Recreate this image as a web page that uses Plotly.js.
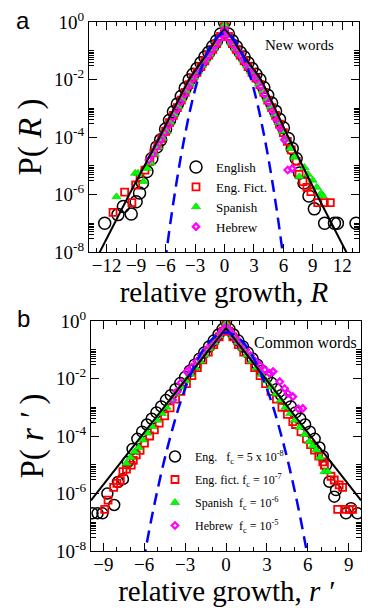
<!DOCTYPE html>
<html>
<head>
<meta charset="utf-8">
<script src="https://cdn.plot.ly/plotly-3.0.1.min.js"></script>
<style>html,body{margin:0;padding:0;background:#fff;}#chart{width:373px;height:611px;}</style>
</head>
<body>
<div id="chart"></div>
<script>
// ---------- Panel a: new words (x = R, values are log10 P) ----------
const engA_R = [-12.2,-10.85,-10.3,-9.5,-9.0,-8.65,-8.35,-7.9,-7.4,-6.9,-6.5,-6.0,-5.6,-5.2,-4.8,-4.4,-4.0,-3.6,-3.2,-2.8,-2.4,-2.0,-1.6,-1.2,-0.8,-0.4,0,0.4,0.8,1.2,1.6,2.0,2.4,2.8,3.2,3.6,4.0,4.4,4.8,5.2,5.6,6.0,6.5,6.9,7.3,7.65,8.1,8.6,9.15,10.2,11.2,11.5,13.4];
const engA_logP = [-7.0,-6.7,-6.42,-6.68,-6.25,-5.95,-5.6,-5.2,-4.75,-4.35,-4.1,-3.72,-3.42,-3.12,-2.85,-2.58,-2.3,-2.02,-1.82,-1.62,-1.42,-1.22,-1.05,-0.85,-0.65,-0.42,0,-0.42,-0.65,-0.85,-1.05,-1.22,-1.42,-1.62,-1.82,-2.0,-2.28,-2.55,-2.82,-3.1,-3.38,-3.68,-4.05,-4.4,-4.75,-5.25,-5.6,-6.05,-6.5,-7.0,-7.0,-7.0,-7.0];

const ficA_R = [-11.35,-10.17,-9.43,-9.05,-8.6,-8.1,-7.6,-7.2,-6.8,-6.4,-6.0,-5.6,-5.2,-4.8,-4.4,-4.0,-3.6,-3.2,-2.8,-2.4,-2.0,-1.6,-1.2,-0.8,-0.4,0,0.4,0.8,1.2,1.6,2.0,2.4,2.8,3.2,3.6,4.0,4.4,4.8,5.2,5.6,6.0,6.4,6.8,7.3,7.6,8.0,8.4,8.8,9.5,10.17,10.78];
const ficA_logP = [-6.62,-5.92,-6.28,-5.67,-5.4,-5.15,-4.85,-4.55,-4.3,-4.05,-3.8,-3.5,-3.25,-2.98,-2.72,-2.45,-2.18,-1.95,-1.75,-1.55,-1.35,-1.15,-0.95,-0.75,-0.5,-0.16,-0.5,-0.75,-0.95,-1.15,-1.35,-1.55,-1.75,-1.95,-2.18,-2.45,-2.72,-2.98,-3.25,-3.55,-3.85,-4.15,-4.45,-4.85,-5.3,-5.55,-5.75,-5.9,-6.28,-6.28,-6.28];

const spaA_R = [-11.0,-9.1,-8.8,-8.24,-7.9,-7.5,-7.1,-6.7,-6.3,-5.9,-5.5,-5.1,-4.7,-4.3,-3.9,-3.5,-3.1,-2.7,-2.3,-1.9,-1.5,-1.1,-0.7,-0.3,0,0.3,0.7,1.1,1.5,1.9,2.3,2.7,3.1,3.5,3.9,4.3,4.7,5.1,5.5,5.9,6.3,6.7,7.1,7.63,8.14,8.5,8.98,9.4,9.83,10.0];
const spaA_logP = [-6.08,-5.26,-5.26,-5.55,-5.1,-4.9,-4.6,-4.35,-4.05,-3.8,-3.5,-3.22,-2.95,-2.68,-2.4,-2.15,-1.92,-1.72,-1.52,-1.32,-1.12,-0.92,-0.72,-0.45,-0.1,-0.45,-0.72,-0.92,-1.12,-1.32,-1.52,-1.72,-1.92,-2.15,-2.4,-2.68,-2.95,-3.22,-3.5,-3.8,-4.1,-4.4,-4.7,-5.38,-5.06,-5.3,-5.5,-5.75,-5.96,-6.04];

const hebA_R = [-7.7,-7.3,-6.9,-6.5,-6.1,-5.7,-5.3,-4.9,-4.5,-4.1,-3.7,-3.3,-2.9,-2.5,-2.1,-1.7,-1.3,-0.9,-0.5,-0.2,0,0.2,0.5,0.9,1.3,1.7,2.1,2.5,2.9,3.3,3.7,4.1,4.5,4.9,5.3,5.7,6.1,6.44,6.9];
const hebA_logP = [-4.8,-4.6,-4.35,-4.1,-3.85,-3.6,-3.32,-3.05,-2.78,-2.52,-2.25,-2.0,-1.8,-1.6,-1.4,-1.2,-1.0,-0.8,-0.6,-0.4,-0.25,-0.4,-0.6,-0.8,-1.0,-1.2,-1.4,-1.6,-1.8,-2.0,-2.25,-2.52,-2.8,-3.1,-3.4,-3.7,-4.1,-5.15,-5.1];

// solid black fit curve, panel a
const fitA_R = [-13.8,-12.7,-9.7,-6.6,-3.6,-1.8,0,1.8,3.7,6.5,9.4,12.4,13.7];
const fitA_logP = [-8.7,-8.0,-6.0,-4.0,-2.0,-1.12,-0.27,-1.12,-2.0,-4.0,-6.0,-8.0,-8.85];

// blue dashed Gaussian curve (same in both panels)
const gauss_x = [-6.3,-6,-5.5,-5,-4.5,-4,-3.5,-3,-2.5,-2,-1.5,-1,-0.5,0,0.5,1,1.5,2,2.5,3,3.5,4,4.5,5,5.5,6,6.3];
const gauss_P = [1e-9,6e-9,1.1e-7,1.5e-6,1.6e-5,1.3e-4,8.7e-4,4.4e-3,1.75e-2,5.4e-2,0.13,0.24,0.35,0.4,0.35,0.24,0.13,5.4e-2,1.75e-2,4.4e-3,8.7e-4,1.3e-4,1.6e-5,1.5e-6,1.1e-7,6e-9,1e-9];

// ---------- Panel b: common words (x = r') ----------
const engB_r = [-9.79,-9.42,-9.06,-8.7,-8.2,-7.92,-7.56,-7.2,-6.85,-6.5,-6.15,-5.8,-5.45,-5.1,-4.75,-4.4,-4.05,-3.7,-3.35,-3.0,-2.65,-2.3,-1.95,-1.6,-1.25,-0.9,-0.55,-0.25,0,0.25,0.55,0.9,1.25,1.6,1.95,2.3,2.65,3.0,3.35,3.7,4.05,4.4,4.75,5.1,5.45,5.8,6.15,6.5,6.85,7.1,7.34,7.58,7.94,8.07,8.8,9.16,9.64];
const engB_logP = [-6.69,-6.69,-6.69,-6.0,-6.4,-5.6,-5.5,-4.9,-4.45,-4.1,-3.85,-3.6,-3.4,-3.18,-2.97,-2.75,-2.58,-2.37,-2.16,-1.95,-1.73,-1.52,-1.31,-1.1,-0.89,-0.68,-0.47,-0.28,-0.02,-0.28,-0.47,-0.68,-0.89,-1.1,-1.31,-1.52,-1.73,-1.95,-2.16,-2.37,-2.58,-2.75,-2.97,-3.18,-3.4,-3.6,-3.85,-4.1,-4.4,-4.7,-5.01,-5.59,-6.11,-5.88,-6.69,-6.51,-6.69];

const ficB_r = [-8.89,-8.65,-8.24,-8.0,-7.75,-7.56,-7.3,-6.95,-6.8,-6.58,-6.3,-5.98,-5.6,-5.25,-4.9,-4.5,-4.1,-3.7,-3.3,-2.9,-2.5,-2.1,-1.7,-1.3,-0.9,-0.5,-0.2,0,0.2,0.5,0.9,1.3,1.7,2.1,2.5,2.9,3.3,3.7,4.1,4.5,4.9,5.1,5.5,5.9,6.2,6.49,6.8,7.1,7.22,7.7,7.94,8.3,8.55,8.19,8.8,9.04,9.28];
const ficB_logP = [-6.55,-6.23,-5.79,-5.65,-5.55,-5.24,-5.15,-5.01,-4.85,-4.66,-4.5,-4.25,-4.0,-3.79,-3.55,-3.3,-3.02,-2.72,-2.45,-2.18,-1.9,-1.62,-1.35,-1.08,-0.82,-0.55,-0.35,-0.15,-0.35,-0.55,-0.82,-1.08,-1.35,-1.62,-1.9,-2.18,-2.45,-2.72,-3.0,-3.25,-3.5,-3.6,-3.85,-4.1,-4.3,-4.49,-4.7,-4.9,-5.01,-5.4,-5.53,-5.7,-5.79,-6.55,-6.55,-6.55,-6.55];

const spaB_r = [-7.31,-7.0,-6.7,-6.4,-6.1,-5.75,-5.4,-5.05,-4.7,-4.35,-4.0,-3.65,-3.3,-2.95,-2.6,-2.25,-1.9,-1.55,-1.2,-0.85,-0.5,-0.2,0,0.2,0.5,0.85,1.2,1.55,1.9,2.25,2.6,2.95,3.3,3.65,4.0,4.35,4.7,5.05,5.4,5.75,6.1,6.35,6.61,6.9,7.22,7.46];
const spaB_logP = [-4.95,-4.75,-4.55,-4.4,-4.14,-3.9,-3.68,-3.45,-3.22,-3.0,-2.76,-2.53,-2.3,-2.08,-1.85,-1.63,-1.4,-1.18,-0.96,-0.74,-0.52,-0.3,-0.08,-0.3,-0.52,-0.74,-0.96,-1.18,-1.4,-1.63,-1.85,-2.08,-2.3,-2.53,-2.76,-3.0,-3.22,-3.45,-3.7,-3.95,-4.2,-4.35,-4.49,-4.75,-5.24,-5.24];

const hebB_r = [-3.9,-3.6,-3.3,-2.87,-2.5,-2.15,-1.8,-1.45,-1.1,-0.75,-0.4,-0.15,0,0.15,0.4,0.75,1.1,1.45,1.8,2.15,2.5,2.85,3.2,3.45,3.94,4.3,4.54,4.9,5.3,5.63];
const hebB_logP = [-2.75,-2.45,-2.15,-1.76,-1.6,-1.4,-1.2,-1.0,-0.82,-0.62,-0.42,-0.28,-0.2,-0.28,-0.42,-0.62,-0.82,-1.0,-1.2,-1.4,-1.55,-1.7,-1.82,-1.76,-2.11,-2.35,-2.52,-2.63,-3.05,-3.04];

// solid black Laplace line, panel b
const fitB_r = [-9.9,0,9.9];
const fitB_logP = [-6.24,-0.25,-6.24];

// labels
const namesA = ['English','Eng. Fict.','Spanish','Hebrew'];
const namesB = ['Eng.\u00a0\u00a0\u00a0f<sub>c</sub> = 5 x 10<sup>-8</sup>','Eng. fict. f<sub>c</sub> = 10<sup>-7</sup>','Spanish\u00a0\u00a0f<sub>c</sub> = 10<sup>-6</sup>','Hebrew\u00a0\u00a0f<sub>c</sub> = 10<sup>-5</sup>'];
const xTicksA = [-12,-9,-6,-3,0,3,6,9,12];
const xTicksB = [-9,-6,-3,0,3,6,9];
const yTickVals = [1,1e-2,1e-4,1e-6,1e-8];
const yTickText = ['10<sup>0</sup>','10<sup>-2</sup>','10<sup>-4</sup>','10<sup>-6</sup>','10<sup>-8</sup>'];

// ---------- build ----------
const pw = v => v.map(e => Math.pow(10, e));
const W = 373, H = 611;
const SERIF = 'Liberation Serif, Times New Roman, serif';

const yMinor = [];
[-2,-4,-6,-8].forEach(e => { for (let k = 3; k <= 10; k++) yMinor.push(k * Math.pow(10, e)); });

function markerTraces(sets, xa, ya, leg, circSize) {
  const styles = [
    {symbol:'circle-open', size:circSize, color:'#000', line:{width:1.5,color:'#000'}},
    {symbol:'square-open', size:7, color:'#ff0000', line:{width:1.8,color:'#ff0000'}},
    {symbol:'triangle-up', size:8, color:'#00ff00', line:{width:0.6,color:'#00c000'}},
    {symbol:'diamond-open', size:5, color:'#ff00ff', line:{width:2.2,color:'#ff00ff'}}
  ];
  return sets.map((s, i) => ({
    type:'scatter', mode:'markers', x:s[0], y:pw(s[1]), name:s[2],
    xaxis:xa, yaxis:ya, legend:leg, legendgroup:leg + i,
    marker:styles[i], cliponaxis:true
  }));
}

const traces = [
  ...markerTraces([[engA_R,engA_logP,namesA[0]],[ficA_R,ficA_logP,namesA[1]],[spaA_R,spaA_logP,namesA[2]],[hebA_R,hebA_logP,namesA[3]]],'x','y','legend',12),
  {type:'scatter', mode:'lines', x:fitA_R, y:pw(fitA_logP), xaxis:'x', yaxis:'y', showlegend:false, line:{color:'#000', width:2, shape:'spline', smoothing:0.6}},
  {type:'scatter', mode:'lines', x:gauss_x, y:gauss_P, xaxis:'x', yaxis:'y', showlegend:false, line:{color:'#0000ff', width:2.5, dash:'12px,7px', shape:'spline'}},
  ...markerTraces([[engB_r,engB_logP,namesB[0]],[ficB_r,ficB_logP,namesB[1]],[spaB_r,spaB_logP,namesB[2]],[hebB_r,hebB_logP,namesB[3]]],'x2','y2','legend2',11),
  {type:'scatter', mode:'lines', x:fitB_r, y:pw(fitB_logP), xaxis:'x2', yaxis:'y2', showlegend:false, line:{color:'#000', width:2}},
  {type:'scatter', mode:'lines', x:gauss_x, y:gauss_P, xaxis:'x2', yaxis:'y2', showlegend:false, line:{color:'#0000ff', width:2.5, dash:'12px,7px', shape:'spline'}}
];

function xAxis(dom, rng, ticks, anchor, title) {
  return {
    domain:dom, range:rng, anchor:anchor, tickmode:'array', tickvals:ticks,
    ticks:'inside', ticklen:8, tickwidth:1, tickcolor:'#000',
    showline:true, linecolor:'#000', linewidth:1, mirror:'allticks',
    showgrid:false, zeroline:false, ticklabelstandoff:-4,
    minor:{dtick:1, ticks:'inside', ticklen:4, tickwidth:1, tickcolor:'#000', showgrid:false},
    tickfont:{family:SERIF, size:19, color:'#000'},
    title:{text:title, font:{family:SERIF, size:29, color:'#000'}, standoff:3},
    automargin:false
  };
}
function yAxis(dom, anchor, title) {
  return {
    domain:dom, type:'log', range:[-8,0], anchor:anchor, tickmode:'array',
    tickvals:yTickVals, ticktext:yTickText,
    ticks:'inside', ticklen:8, tickwidth:1, tickcolor:'#000',
    showline:true, linecolor:'#000', linewidth:1, mirror:'allticks',
    showgrid:false, zeroline:false,
    minor:{tickmode:'array', tickvals:yMinor, ticks:'inside', ticklen:5, tickwidth:1, tickcolor:'#000', showgrid:false},
    tickfont:{family:SERIF, size:19, color:'#000'},
    title:{text:title, font:{family:SERIF, size:33, color:'#000'}, standoff:2},
    automargin:false
  };
}

const layout = {
  width:W, height:H, margin:{l:0,r:0,t:0,b:0},
  paper_bgcolor:'#fff', plot_bgcolor:'#fff', showlegend:true,
  xaxis: xAxis([89/W, 359/W], [-13.8,13.7], xTicksA, 'y', 'relative growth, <i>R</i>'),
  yaxis: yAxis([1-252/H, 1-22/H], 'x', 'P( <i>R</i> )'),
  xaxis2: xAxis([91/W, 361/W], [-9.9,9.9], xTicksB, 'y2', 'relative growth, <i>r \u2032</i>'),
  yaxis2: yAxis([1-551/H, 1-321/H], 'x2', 'P( <i>r \u2032</i> )'),
  legend:{x:176/W, y:1-152/H, xanchor:'left', yanchor:'top', bgcolor:'rgba(0,0,0,0)', borderwidth:0,
          font:{family:SERIF, size:13, color:'#000'}, tracegroupgap:0, itemwidth:30},
  legend2:{x:155/W, y:1-442/H, xanchor:'left', yanchor:'top', bgcolor:'rgba(0,0,0,0)', borderwidth:0,
          font:{family:SERIF, size:12, color:'#000'}, tracegroupgap:4, itemwidth:30},
  annotations:[
    {text:'a', xref:'paper', yref:'paper', x:23/W, y:1-20/H, xanchor:'center', yanchor:'middle', showarrow:false, font:{family:'Liberation Sans, Arial, sans-serif', size:24, color:'#000'}},
    {text:'b', xref:'paper', yref:'paper', x:23/W, y:1-318/H, xanchor:'center', yanchor:'middle', showarrow:false, font:{family:'Liberation Sans, Arial, sans-serif', size:24, color:'#000'}},
    {text:'New words', xref:'paper', yref:'paper', x:299/W, y:1-45/H, xanchor:'center', yanchor:'middle', showarrow:false, font:{family:SERIF, size:15, color:'#000'}},
    {text:'Common words', xref:'paper', yref:'paper', x:305/W, y:1-342/H, xanchor:'center', yanchor:'middle', showarrow:false, font:{family:SERIF, size:16, color:'#000'}}
  ]
};

Plotly.newPlot('chart', traces, layout, {displayModeBar:false, staticPlot:true});
</script>
</body>
</html>
